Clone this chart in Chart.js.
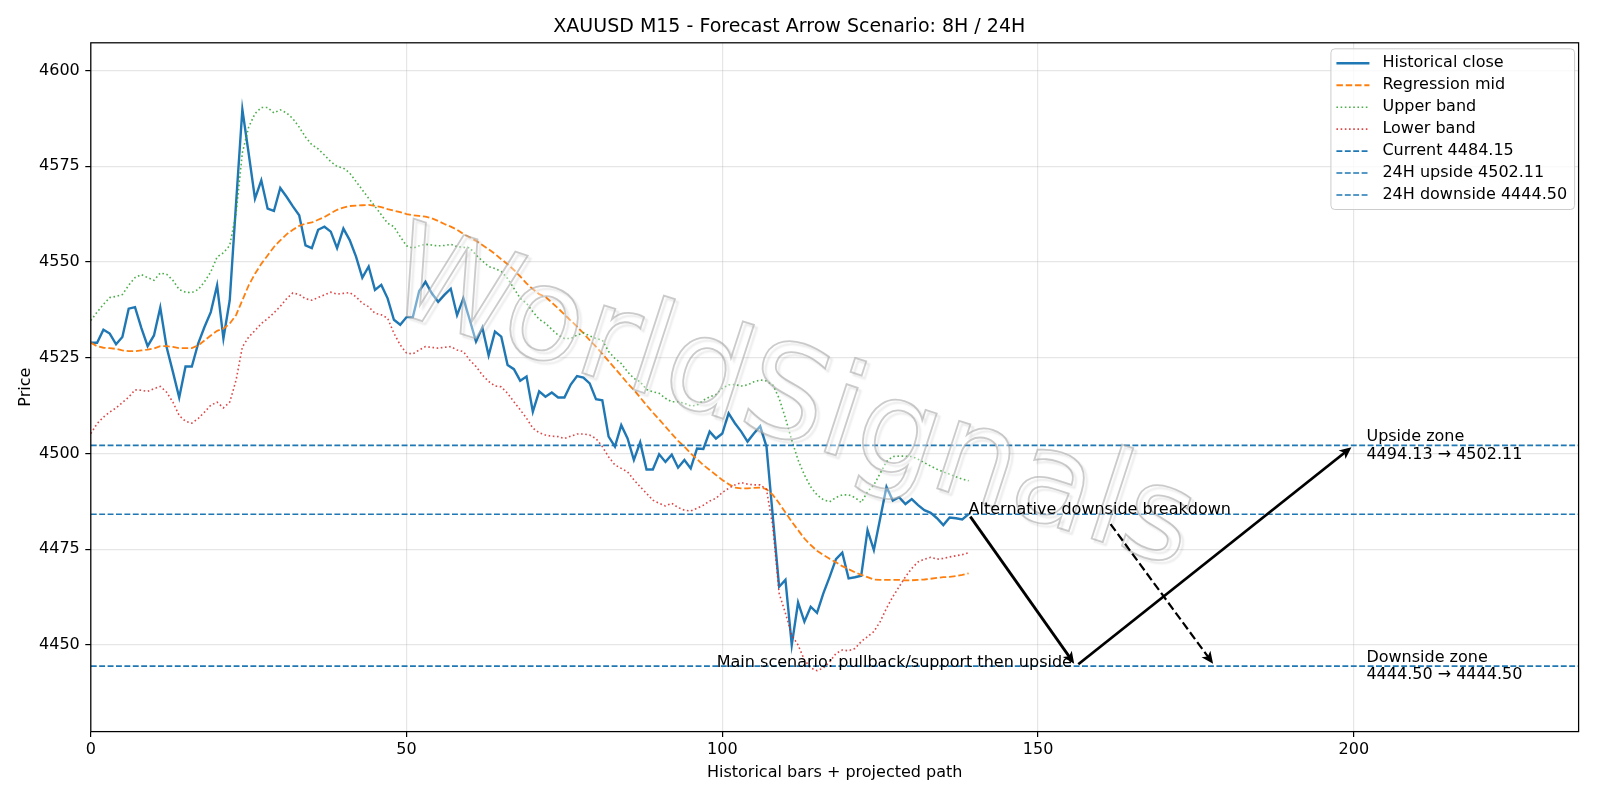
<!DOCTYPE html>
<html>
<head>
<meta charset="utf-8">
<title>XAUUSD M15 forecast</title>
<script src="https://cdn.jsdelivr.net/npm/chart.js@4.4.1/dist/chart.umd.min.js"></script>
<style>
  html, body { margin: 0; padding: 0; background: #fff; }
  #wrap { width: 1600px; height: 800px; }
</style>
</head>
<body>
<div id="wrap"><canvas id="chart"></canvas></div>
<script>
// ---- data ----
const closeValues = [
  4528.9, 4528.9, 4532.3, 4531.3, 4528.5, 4530.4, 4537.8, 4538.2, 4532.8, 4528.0,
  4530.8, 4538.1, 4527.8, 4521.3, 4514.6, 4522.7, 4522.7, 4528.7, 4533.0, 4536.9,
  4543.9, 4530.0, 4540.0, 4565.2, 4589.8, 4578.3, 4566.5, 4571.3, 4563.9, 4563.3,
  4569.3, 4567.0, 4564.5, 4562.2, 4554.3, 4553.6, 4558.4, 4559.2, 4557.9, 4553.6,
  4558.7, 4555.7, 4551.4, 4545.9, 4548.8, 4542.7, 4544.0, 4540.5, 4534.9, 4533.6,
  4535.6, 4535.6, 4542.4, 4544.8, 4541.8, 4539.6, 4541.4, 4543.0, 4536.1, 4540.5,
  4534.9, 4529.2, 4532.9, 4525.6, 4531.8, 4530.5, 4523.1, 4522.0, 4519.0, 4520.1,
  4510.9, 4516.2, 4514.8, 4515.9, 4514.6, 4514.6, 4518.0, 4520.2, 4519.8, 4518.3,
  4514.2, 4513.9, 4504.4, 4501.8, 4507.4, 4503.9, 4498.3, 4502.9, 4495.8, 4495.8,
  4499.8, 4497.8, 4499.7, 4496.3, 4498.3, 4496.1, 4501.3, 4501.2, 4505.7, 4503.9,
  4505.2, 4510.5, 4507.9, 4505.7, 4503.1, 4505.2, 4507.1, 4501.8, 4483.5, 4465.2,
  4467.0, 4450.0, 4461.1, 4456.1, 4460.0, 4458.4, 4463.5, 4467.8, 4472.4, 4474.1,
  4467.4, 4467.7, 4468.1, 4480.0, 4474.8, 4483.0, 4491.3, 4487.7, 4488.6, 4486.8,
  4488.1, 4486.5, 4485.2, 4484.5, 4483.1, 4481.3, 4483.3, 4483.1, 4482.8, 4484.15
];
const midValues = [
  4528.9, 4528.0, 4527.6, 4527.5, 4527.3, 4526.9, 4526.7, 4526.7, 4526.9, 4527.1,
  4527.4, 4528.0, 4528.0, 4527.8, 4527.5, 4527.5, 4527.5, 4528.2, 4529.5, 4530.8,
  4532.0, 4532.6, 4533.9, 4536.1, 4540.0, 4543.9, 4546.9, 4549.5, 4551.7, 4553.9,
  4555.6, 4557.2, 4558.4, 4559.4, 4560.0, 4560.3, 4561.0, 4561.7, 4562.7, 4563.6,
  4564.2, 4564.6, 4564.7, 4564.8, 4564.9, 4564.6, 4564.3, 4563.8, 4563.4, 4563.0,
  4562.5, 4562.2, 4562.0, 4561.8, 4561.4, 4560.7, 4559.9, 4559.2, 4558.4, 4557.3,
  4556.4, 4555.5, 4554.4, 4553.3, 4552.1, 4550.7, 4549.4, 4547.9, 4546.2, 4544.4,
  4542.9, 4541.6, 4540.9, 4539.4, 4537.9, 4536.3, 4534.7, 4533.1, 4531.4, 4529.6,
  4527.9, 4526.0, 4524.1, 4522.2, 4520.3, 4518.3, 4516.6, 4514.6, 4512.6, 4510.7,
  4508.9, 4507.0, 4505.1, 4503.3, 4501.8, 4500.0, 4498.5, 4497.0, 4495.7, 4494.4,
  4493.1, 4492.0, 4491.1, 4490.9, 4490.9, 4491.0, 4491.1, 4490.7, 4489.2, 4487.0,
  4484.6, 4482.2, 4480.0, 4477.8, 4476.1, 4474.6, 4473.5, 4472.5, 4471.6, 4470.6,
  4469.8, 4469.0, 4468.3, 4467.7, 4467.1, 4467.0, 4467.0, 4467.0, 4467.0, 4466.9,
  4466.9, 4467.0, 4467.1, 4467.3, 4467.5, 4467.7, 4467.8, 4468.0, 4468.3, 4468.7
];
const upperValues = [
  4534.7, 4536.9, 4538.9, 4540.7, 4541.0, 4541.5, 4543.9, 4545.9, 4546.7, 4545.9,
  4545.2, 4547.1, 4546.8, 4545.2, 4542.8, 4542.1, 4542.0, 4542.8, 4544.8, 4547.4,
  4551.3, 4552.4, 4554.3, 4562.6, 4578.5, 4585.2, 4588.7, 4590.3, 4590.3, 4588.9,
  4589.7, 4588.9, 4587.4, 4585.2, 4582.6, 4580.6, 4579.5, 4577.9, 4576.2, 4574.9,
  4574.5, 4573.2, 4571.0, 4568.8, 4566.6, 4564.5, 4562.3, 4560.1, 4559.2, 4556.6,
  4554.2, 4553.6, 4554.2, 4554.6, 4554.4, 4554.2, 4554.3, 4554.6, 4554.0, 4553.8,
  4553.7, 4551.8, 4550.3, 4548.8, 4548.3, 4547.5, 4545.7, 4543.1, 4540.5, 4539.2,
  4537.0, 4535.0, 4534.0, 4532.4, 4530.9, 4530.0, 4530.0, 4530.9, 4531.5, 4530.7,
  4530.0, 4529.6, 4526.6, 4524.8, 4523.5, 4521.3, 4519.6, 4518.7, 4516.7, 4516.1,
  4515.7, 4514.4, 4513.5, 4513.5, 4513.1, 4512.4, 4512.6, 4513.9, 4514.8, 4515.4,
  4517.0, 4517.9, 4518.0, 4517.6, 4517.9, 4518.7, 4519.2, 4518.9, 4517.9, 4514.4,
  4509.2, 4503.5, 4498.3, 4494.4, 4491.3, 4489.2, 4487.9, 4487.4, 4488.5, 4489.2,
  4489.2, 4488.5, 4487.2, 4490.0, 4491.8, 4494.8, 4497.9, 4499.2, 4499.3, 4499.3,
  4499.2, 4498.5, 4497.6, 4496.7, 4495.9, 4495.2, 4494.6, 4493.9, 4493.3, 4492.9
];
const lowerValues = [
  4505.2, 4507.8, 4509.5, 4510.8, 4511.9, 4513.3, 4514.7, 4516.6, 4516.5, 4516.2,
  4516.9, 4517.5, 4516.0, 4513.4, 4509.9, 4508.4, 4507.9, 4509.1, 4510.8, 4512.6,
  4513.4, 4511.9, 4513.4, 4519.1, 4527.8, 4530.4, 4532.1, 4533.9, 4535.2, 4536.7,
  4538.4, 4540.4, 4541.9, 4541.5, 4540.4, 4540.0, 4540.7, 4541.4, 4542.1, 4541.6,
  4541.8, 4542.0, 4540.9, 4539.2, 4538.3, 4536.6, 4536.2, 4535.3, 4531.4, 4528.3,
  4526.2, 4526.0, 4527.0, 4527.9, 4527.7, 4527.5, 4527.7, 4527.9, 4527.0, 4526.6,
  4524.4, 4522.7, 4520.5, 4518.8, 4517.6, 4517.4, 4515.7, 4513.5, 4511.4, 4509.2,
  4506.6, 4505.4, 4504.8, 4504.5, 4504.4, 4503.9, 4504.5, 4505.1, 4505.1, 4504.8,
  4503.9, 4501.8, 4499.1, 4497.0, 4496.1, 4495.2, 4493.1, 4491.3, 4489.6, 4487.8,
  4487.0, 4486.3, 4487.0, 4485.9, 4485.2, 4485.0, 4485.7, 4486.5, 4487.6, 4488.3,
  4489.8, 4490.9, 4491.8, 4492.4, 4492.0, 4491.8, 4491.8, 4490.6, 4480.9, 4463.5,
  4458.3, 4452.6, 4450.0, 4446.1, 4444.0, 4443.3, 4444.0, 4445.6, 4447.8, 4448.7,
  4448.5, 4449.1, 4450.9, 4452.2, 4453.5, 4456.1, 4459.6, 4462.6, 4465.2, 4467.8,
  4470.0, 4471.7, 4472.4, 4472.9, 4472.4, 4472.6, 4473.0, 4473.3, 4473.6, 4474.1
];

// levels and projected scenario
const currentPrice = 4484.15;
const upside24 = 4502.11;
const downside24 = 4444.50;
const upsideZone = [4494.13, 4502.11];
const downsideZone = [4444.50, 4444.50];
const mainPathX = [139, 156, 200];
const mainPathY = [4484.15, 4444.5, 4502.11];
const altPathX = [161.2, 178];
const altPathY = [4482.2, 4444.5];
const zoneLabelX = 202;

// axes
const xRange = [0, 235.6];
const yRange = [4427.4, 4607.2];
const xTicks = [0, 50, 100, 150, 200];
const yTicks = [4450, 4475, 4500, 4525, 4550, 4575, 4600];

const FONT = "'DejaVu Sans', sans-serif";
Chart.defaults.font.family = FONT;
Chart.defaults.color = '#000';

const toPoints = arr => arr.map((v, i) => ({ x: i, y: v }));
const hline = v => [{ x: xRange[0], y: v }, { x: xRange[1], y: v }];
const fmt = v => v.toFixed(2);

function drawArrow(ctx, x1, y1, x2, y2, dashed) {
    const ang = Math.atan2(y2 - y1, x2 - x1);
    const c = Math.cos(ang), s = Math.sin(ang);
    const sx = x1 + 3 * c, sy = y1 + 3 * s;
    const ex = x2 - 3 * c, ey = y2 - 3 * s;
    ctx.save();
    ctx.strokeStyle = '#000';
    ctx.fillStyle = '#000';
    ctx.lineWidth = dashed ? 2.2 : 2.8;
    ctx.lineCap = 'butt';
    ctx.setLineDash(dashed ? [8.5, 3.7] : []);
    ctx.beginPath();
    ctx.moveTo(sx, sy);
    ctx.lineTo(ex - 4 * c, ey - 4 * s);
    ctx.stroke();
    ctx.setLineDash([]);
    const hl = 12, hw = 5.5;
    ctx.beginPath();
    ctx.moveTo(ex, ey);
    ctx.lineTo(ex - hl * c + hw * s, ey - hl * s - hw * c);
    ctx.lineTo(ex - hl * c * 0.75, ey - hl * s * 0.75);
    ctx.lineTo(ex - hl * c - hw * s, ey - hl * s + hw * c);
    ctx.closePath();
    ctx.fill();
    ctx.restore();
}

function drawLegend(chart) {
    const { ctx, chartArea: a } = chart;
    const items = chart.data.datasets;
    ctx.save();
    ctx.font = `16px ${FONT}`;
    const textW = Math.max(...items.map(d => ctx.measureText(d.label).width));
    const w = 51.5 + textW + 7.5;
    const h = 14.5 + 21.95 * (items.length - 1) + 14.5;
    const left = a.right - 4 - w;
    const top = a.top + 6;
    ctx.beginPath();
    ctx.roundRect(left, top, w, h, 4);
    ctx.fillStyle = 'rgba(255,255,255,0.8)';
    ctx.fill();
    ctx.strokeStyle = '#cccccc';
    ctx.lineWidth = 1;
    ctx.stroke();
    items.forEach((d, i) => {
        const cy = top + 14.5 + 21.95 * i;
        ctx.beginPath();
        ctx.strokeStyle = d.borderColor;
        ctx.lineWidth = d.borderWidth;
        ctx.setLineDash(d.borderDash || []);
        ctx.moveTo(left + 5.5, cy);
        ctx.lineTo(left + 38.5, cy);
        ctx.stroke();
        ctx.setLineDash([]);
        ctx.fillStyle = '#000';
        ctx.textBaseline = 'middle';
        ctx.textAlign = 'left';
        ctx.fillText(d.label, left + 51.5, cy);
    });
    ctx.restore();
}

const overlayPlugin = {
    id: 'overlay',
    afterDatasetsDraw(chart) {
        const { ctx, chartArea: a, scales: { x, y } } = chart;

        // watermark
        ctx.save();
        ctx.beginPath();
        ctx.rect(a.left, a.top, a.width, a.height);
        ctx.clip();
        ctx.translate(790, 405);
        ctx.rotate(18 * Math.PI / 180);
        ctx.font = `130px ${FONT}`;
        ctx.textAlign = 'center';
        ctx.textBaseline = 'middle';
        ctx.fillStyle = 'rgba(255,255,255,0.4)';
        ctx.fillText('WorldSignals', 0, 0);
        ctx.shadowColor = 'rgba(0,0,0,0.18)';
        ctx.shadowOffsetX = 3;
        ctx.shadowOffsetY = 3;
        ctx.shadowBlur = 2;
        ctx.lineWidth = 1.8;
        ctx.strokeStyle = 'rgba(160,160,160,0.55)';
        ctx.strokeText('WorldSignals', 0, 0);
        ctx.restore();

        // projected arrows
        for (let i = 0; i < mainPathX.length - 1; i++) {
            drawArrow(ctx,
                x.getPixelForValue(mainPathX[i]), y.getPixelForValue(mainPathY[i]),
                x.getPixelForValue(mainPathX[i + 1]), y.getPixelForValue(mainPathY[i + 1]), false);
        }
        drawArrow(ctx,
            x.getPixelForValue(altPathX[0]), y.getPixelForValue(altPathY[0]),
            x.getPixelForValue(altPathX[1]), y.getPixelForValue(altPathY[1]), true);

        // annotation texts
        ctx.save();
        ctx.font = `16px ${FONT}`;
        ctx.fillStyle = '#000';
        ctx.textBaseline = 'alphabetic';
        ctx.textAlign = 'left';
        ctx.fillText('Alternative downside breakdown',
            x.getPixelForValue(mainPathX[0]), y.getPixelForValue(mainPathY[0]));
        ctx.textAlign = 'right';
        ctx.fillText('Main scenario: pullback/support then upside',
            x.getPixelForValue(mainPathX[1]) - 4, y.getPixelForValue(mainPathY[1]) + 1);

        ctx.textAlign = 'left';
        ctx.textBaseline = 'middle';
        const zx = x.getPixelForValue(zoneLabelX);
        const uy = y.getPixelForValue(upside24);
        ctx.fillText('Upside zone', zx, uy - 8.5);
        ctx.fillText(`${fmt(upsideZone[0])} \u2192 ${fmt(upsideZone[1])}`, zx, uy + 9);
        const dy = y.getPixelForValue(downside24);
        ctx.fillText('Downside zone', zx, dy - 8.5);
        ctx.fillText(`${fmt(downsideZone[0])} \u2192 ${fmt(downsideZone[1])}`, zx, dy + 9);
        ctx.restore();

        // axes frame
        ctx.save();
        ctx.strokeStyle = '#000';
        ctx.lineWidth = 1.25;
        ctx.strokeRect(a.left, a.top, a.width, a.height);
        ctx.restore();
    },
    afterDraw(chart) {
        drawLegend(chart);
    }
};

const gridCfg = {
    color: 'rgba(176,176,176,0.32)',
    lineWidth: 1.2,
    tickColor: '#000',
    tickWidth: 1.2,
    tickLength: 5.5
};

new Chart(document.getElementById('chart'), {
    type: 'line',
    data: {
        datasets: [
            { label: 'Historical close', data: toPoints(closeValues), borderColor: '#1f77b4', borderWidth: 2.4, order: 7 },
            { label: 'Regression mid', data: toPoints(midValues), borderColor: '#ff7f0e', borderWidth: 1.8, borderDash: [6.5, 2.8], order: 6 },
            { label: 'Upper band', data: toPoints(upperValues), borderColor: 'rgba(44,160,44,0.85)', borderWidth: 1.6, borderDash: [1.6, 2.6], order: 5 },
            { label: 'Lower band', data: toPoints(lowerValues), borderColor: 'rgba(214,39,40,0.85)', borderWidth: 1.6, borderDash: [1.6, 2.6], order: 4 },
            { label: `Current ${fmt(currentPrice)}`, data: hline(currentPrice), borderColor: '#1f77b4', borderWidth: 1.6, borderDash: [5.9, 2.5], order: 3 },
            { label: `24H upside ${fmt(upside24)}`, data: hline(upside24), borderColor: '#1f77b4', borderWidth: 1.6, borderDash: [5.9, 2.5], order: 2 },
            { label: `24H downside ${fmt(downside24)}`, data: hline(downside24), borderColor: '#1f77b4', borderWidth: 1.6, borderDash: [5.9, 2.5], order: 1 }
        ]
    },
    options: {
        responsive: true,
        maintainAspectRatio: false,
        animation: false,
        parsing: false,
        elements: {
            point: { radius: 0, hoverRadius: 0 },
            line: { tension: 0, fill: false, borderCapStyle: 'butt' }
        },
        layout: { padding: { top: 0, right: 21.4, bottom: 0, left: 0 } },
        plugins: {
            legend: { display: false },
            tooltip: { enabled: false },
            title: {
                display: true,
                text: 'XAUUSD M15 - Forecast Arrow Scenario: 8H / 24H',
                color: '#000',
                font: { size: 19, weight: 'normal', family: FONT },
                padding: { top: 16, bottom: 4 }
            }
        },
        scales: {
            x: {
                type: 'linear',
                min: xRange[0],
                max: xRange[1],
                afterBuildTicks: s => { s.ticks = xTicks.map(v => ({ value: v })); },
                afterFit: s => { s.height = 68.4; },
                grid: gridCfg,
                border: { display: false },
                ticks: { font: { size: 16 }, padding: 3.5, maxRotation: 0, callback: v => String(v) },
                title: { display: true, text: 'Historical bars + projected path', font: { size: 16 }, padding: { top: 0, bottom: 18 } }
            },
            y: {
                type: 'linear',
                min: yRange[0],
                max: yRange[1],
                afterBuildTicks: s => { s.ticks = yTicks.map(v => ({ value: v })); },
                afterFit: s => { s.width = 90.8; },
                grid: gridCfg,
                border: { display: false },
                ticks: { font: { size: 16 }, padding: 5.5, callback: v => String(v) },
                title: { display: true, text: 'Price', font: { size: 16 }, padding: { top: 16, bottom: 0 } }
            }
        }
    },
    plugins: [overlayPlugin]
});
</script>
</body>
</html>
